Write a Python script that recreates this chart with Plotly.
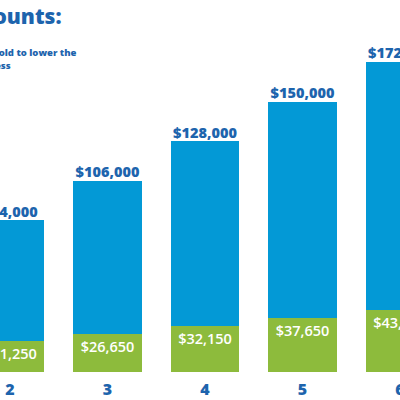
import plotly.graph_objects as go

# household size and the two amounts per size
sizes = [2, 3, 4, 5, 6]
green_vals = [21250, 26650, 32150, 37650, 43150]
blue_vals = [84000, 106000, 128000, 150000, 172000]
size_labels = ['2', '3', '4', '5', '6']

BLUE = '#0399d6'
GREEN = '#8dbb3c'
NAVY = '#1d64ad'


def money(v):
    return '${:,}'.format(v)


def make_fig():
    totals = [g + b for g, b in zip(green_vals, blue_vals)]

    fig = go.Figure()
    fig.add_trace(go.Bar(
        x=sizes, y=green_vals,
        marker_color=GREEN, marker_line_width=0,
        text=[money(v) for v in green_vals],
        textposition='inside', insidetextanchor='end',
        textfont=dict(family='Open Sans', size=14.5, color='white', weight=600),
        width=0.7, hoverinfo='skip'
    ))
    fig.add_trace(go.Bar(
        x=sizes, y=blue_vals,
        marker_color=BLUE, marker_line_width=0,
        width=0.7, hoverinfo='skip'
    ))
    # labels above each bar
    fig.add_trace(go.Scatter(
        x=sizes, y=totals, mode='text',
        text=[money(v) for v in blue_vals],
        textposition='top center',
        textfont=dict(family='Open Sans', size=14.5, color=NAVY, weight=800),
        cliponaxis=False, hoverinfo='skip'
    ))

    fig.update_layout(
        width=400, height=400,
        barmode='stack', showlegend=False,
        paper_bgcolor='white', plot_bgcolor='white',
        margin=dict(l=0, r=0, t=0, b=28),
        bargap=0.3,
    )
    fig.update_xaxes(
        range=[1.897, 6.0], tickvals=sizes, ticktext=size_labels,
        showgrid=False, zeroline=False, showline=False, ticks='',
        automargin=False, ticklabeloverflow='allow', ticklabelstandoff=6,
        tickfont=dict(family='Open Sans', size=16, color=NAVY, weight=800)
    )
    fig.update_yaxes(range=[0, 258150], visible=False, automargin=False)

    # title and note, cut off by the left edge like the reference crop
    fig.add_annotation(
        xref='paper', yref='paper', x=0.16, y=0.957,
        xanchor='right', yanchor='middle', showarrow=False,
        text='Income limits for these amounts:',
        font=dict(family='Open Sans', size=21, color=NAVY, weight=800)
    )
    fig.add_annotation(
        xref='paper', yref='paper', x=0.1975, y=0.860,
        xanchor='right', yanchor='middle', showarrow=False, align='right',
        text='Maximum income for a household to lower the',
        font=dict(family='Open Sans', size=9.5, color=NAVY, weight=800)
    )
    fig.add_annotation(
        xref='paper', yref='paper', x=0.032, y=0.825,
        xanchor='right', yanchor='middle', showarrow=False,
        text='costs less',
        font=dict(family='Open Sans', size=9.5, color=NAVY, weight=800)
    )
    return fig


def main():
    fig = make_fig()
    # drop the browser's default body margin so the chart sits at 0,0
    fig.write_html('out.html', config={'displayModeBar': False},
                   post_script="document.body.style.margin='0';")


if __name__ == '__main__':
    main()
